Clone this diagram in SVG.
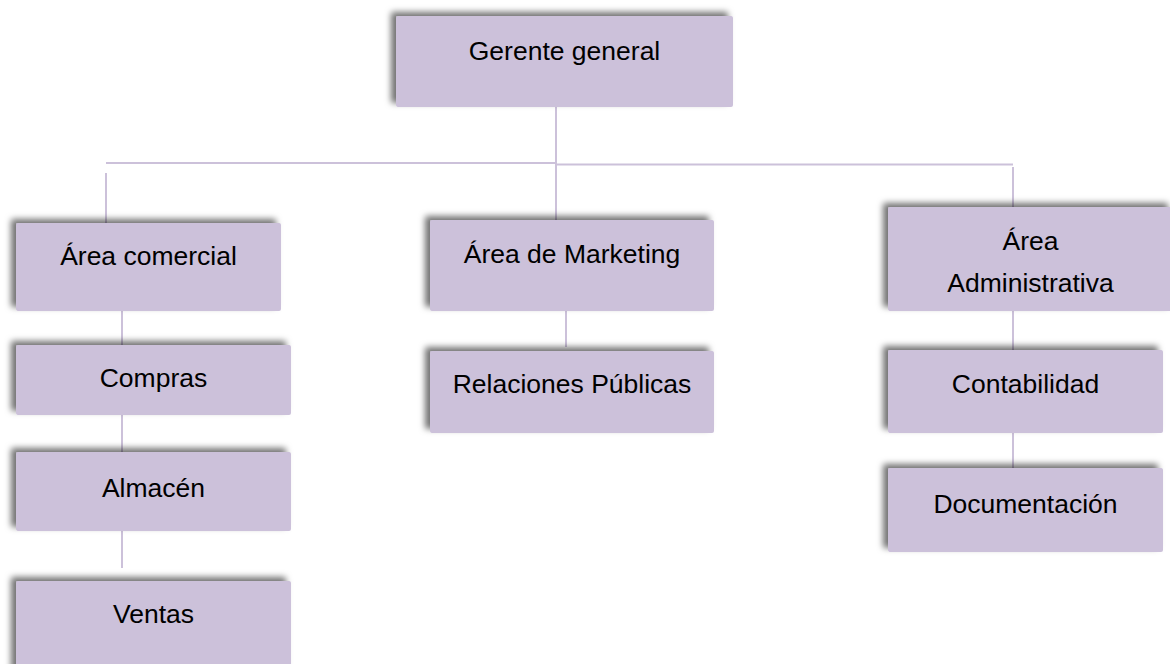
<svg xmlns="http://www.w3.org/2000/svg" width="1170" height="664" viewBox="0 0 1170 664">
<defs>
<filter id="sh" x="-10%" y="-20%" width="120%" height="140%">
<feDropShadow dx="-5" dy="-4" stdDeviation="3" flood-color="#000" flood-opacity="0.55"/>
</filter>
</defs>
<style>
.box{fill:#CCC1DA;filter:url(#sh)}
.lbl{font-family:"Liberation Sans",Arial,sans-serif;font-size:26.5px;fill:#000;text-anchor:middle}
.ln{stroke:#CCC1DA;stroke-width:2;fill:none}
</style>
<rect width="1170" height="664" fill="#fff"/>
<g id="connectors">
<line class="ln" x1="556" y1="107" x2="556" y2="220"/>
<line class="ln" x1="106" y1="163" x2="556" y2="163"/>
<line class="ln" x1="556" y1="164.5" x2="1013" y2="164.5"/>
<line class="ln" x1="106" y1="173" x2="106" y2="223"/>
<line class="ln" x1="1013" y1="167" x2="1013" y2="207"/>
<line class="ln" x1="122" y1="311" x2="122" y2="345"/>
<line class="ln" x1="122" y1="415" x2="122" y2="452"/>
<line class="ln" x1="122" y1="531" x2="122" y2="568"/>
<line class="ln" x1="566" y1="311" x2="566" y2="347"/>
<line class="ln" x1="1013" y1="311" x2="1013" y2="350"/>
<line class="ln" x1="1013" y1="433" x2="1013" y2="468"/>
</g>
<g id="n-gerente">
<rect class="box" x="396" y="16" width="337" height="91" rx="2"/>
<text class="lbl" x="564.5" y="60">Gerente general</text>
</g>
<g id="n-comercial">
<rect class="box" x="16" y="223" width="265" height="88" rx="2"/>
<text class="lbl" x="148.5" y="265">Área comercial</text>
</g>
<g id="n-compras">
<rect class="box" x="16" y="345" width="275" height="70" rx="2"/>
<text class="lbl" x="153.5" y="387">Compras</text>
</g>
<g id="n-almacen">
<rect class="box" x="16" y="452" width="275" height="79" rx="2"/>
<text class="lbl" x="153.5" y="497">Almacén</text>
</g>
<g id="n-ventas">
<rect class="box" x="16" y="581" width="275" height="95" rx="2"/>
<text class="lbl" x="153.5" y="623">Ventas</text>
</g>
<g id="n-marketing">
<rect class="box" x="430" y="220" width="284" height="91" rx="2"/>
<text class="lbl" x="572" y="263">Área de Marketing</text>
</g>
<g id="n-relaciones">
<rect class="box" x="430" y="351" width="284" height="82" rx="2"/>
<text class="lbl" x="572" y="393">Relaciones Públicas</text>
</g>
<g id="n-administrativa">
<rect class="box" x="888" y="207" width="285" height="104" rx="2"/>
<text class="lbl" x="1030.5" y="250">Área</text>
<text class="lbl" x="1030.5" y="292">Administrativa</text>
</g>
<g id="n-contabilidad">
<rect class="box" x="888" y="350" width="275" height="83" rx="2"/>
<text class="lbl" x="1025.5" y="393">Contabilidad</text>
</g>
<g id="n-documentacion">
<rect class="box" x="888" y="468" width="275" height="84" rx="2"/>
<text class="lbl" x="1025.5" y="513">Documentación</text>
</g>
</svg>
